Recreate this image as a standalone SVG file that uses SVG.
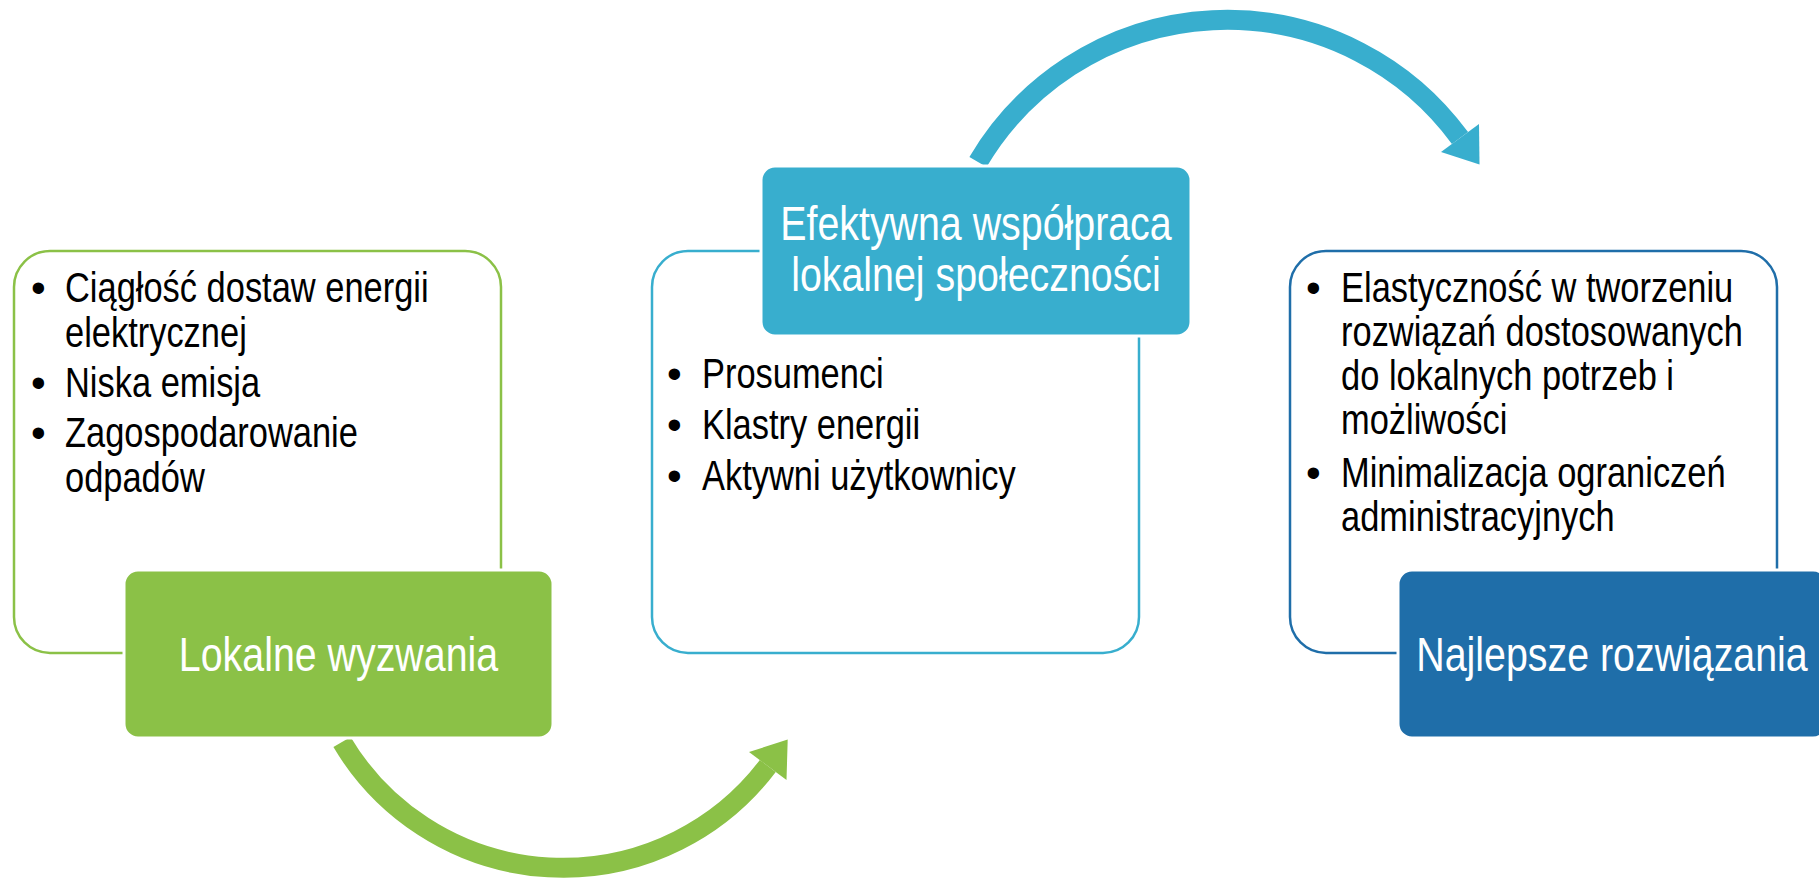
<svg xmlns="http://www.w3.org/2000/svg" width="1819" height="880" viewBox="0 0 1819 880">
<style>
.t{font-family:"Liberation Sans",Arial,sans-serif;}
.body{font-size:42px;fill:#000;}
.title{font-size:48px;fill:#fff;text-anchor:middle;}
.olG{fill:#fff;stroke:#8BC147;stroke-width:2.5;}
.olB{fill:#fff;stroke:#38AECE;stroke-width:2.5;}
.olD{fill:#fff;stroke:#1F6EA9;stroke-width:2.5;}
.fill{stroke:#fff;stroke-width:3;}
</style>
<rect width="1819" height="880" fill="#fff"/>
<g id="connectors">
  <path d="M 342 742 A 257 257 0 0 0 767.8 766" fill="none" stroke="#8BC147" stroke-width="20"/>
  <polygon points="749,752 787.7,739.6 786.5,780" fill="#8BC147"/>
  <path d="M 978 162 A 289 289 0 0 1 1460 138" fill="none" stroke="#38AECE" stroke-width="20"/>
  <polygon points="1479,124 1479.5,164.6 1441,152" fill="#38AECE"/>
</g>
<g id="node-lokalne">
  <rect class="olG" x="14" y="251" width="487" height="402" rx="36"/>
  <text class="t body"><tspan x="31" y="302">•</tspan><tspan x="31" y="397">•</tspan><tspan x="31" y="447">•</tspan></text>
  <text class="t body" transform="scale(0.82 1)"><tspan x="79.3" y="302">Ciągłość dostaw energii</tspan><tspan x="79.3" y="347">elektrycznej</tspan><tspan x="79.3" y="397">Niska emisja</tspan><tspan x="79.3" y="447">Zagospodarowanie</tspan><tspan x="79.3" y="492">odpadów</tspan></text>
  <rect class="fill" x="124" y="570" width="429" height="168" rx="14" fill="#8BC147"/>
  <text class="t title" transform="scale(0.82 1)" x="412.8" y="671">Lokalne wyzwania</text>
</g>
<g id="node-wspolpraca">
  <rect class="olB" x="652" y="251" width="487" height="402" rx="36"/>
  <text class="t body"><tspan x="667" y="388">•</tspan><tspan x="667" y="439">•</tspan><tspan x="667" y="490">•</tspan></text>
  <text class="t body" transform="scale(0.82 1)"><tspan x="856.1" y="388">Prosumenci</tspan><tspan x="856.1" y="439">Klastry energii</tspan><tspan x="856.1" y="490">Aktywni użytkownicy</tspan></text>
  <rect class="fill" x="761" y="166" width="430" height="170" rx="14" fill="#38AECE"/>
  <text class="t title" transform="scale(0.82 1)"><tspan x="1190.2" y="240">Efektywna współpraca</tspan><tspan x="1190.2" y="291">lokalnej społeczności</tspan></text>
</g>
<g id="node-najlepsze">
  <rect class="olD" x="1290" y="251" width="487" height="402" rx="36"/>
  <text class="t body"><tspan x="1306" y="302">•</tspan><tspan x="1306" y="487">•</tspan></text>
  <text class="t body" transform="scale(0.82 1)"><tspan x="1635.4" y="302">Elastyczność w tworzeniu</tspan><tspan x="1635.4" y="346">rozwiązań dostosowanych</tspan><tspan x="1635.4" y="390">do lokalnych potrzeb i</tspan><tspan x="1635.4" y="434">możliwości</tspan><tspan x="1635.4" y="487">Minimalizacja ograniczeń</tspan><tspan x="1635.4" y="531">administracyjnych</tspan></text>
  <rect class="fill" x="1398" y="570" width="429" height="168" rx="14" fill="#1F6EA9"/>
  <text class="t title" transform="scale(0.82 1)" x="1965.9" y="671">Najlepsze rozwiązania</text>
</g>
</svg>
